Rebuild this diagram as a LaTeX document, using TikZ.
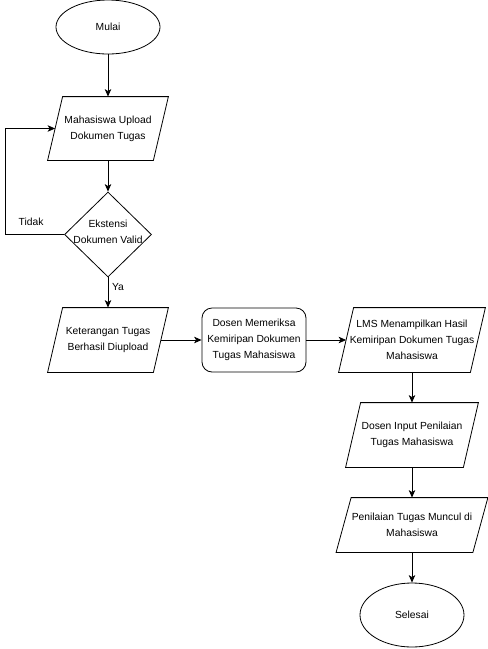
\documentclass[tikz,border=0pt]{standalone}
\usepackage{fontspec}
\setmainfont{Liberation Sans}
\usetikzlibrary{shapes.geometric,arrows.meta}
\begin{document}
\begin{tikzpicture}[x=1pt,y=-1pt,
  base/.style={draw=black, line width=0.8pt, font=\fontsize{10.3}{16}\selectfont, align=center, inner sep=0pt},
  term/.style={base, ellipse, minimum width=104pt},
  io/.style={base, draw=none, rectangle,
    append after command={\pgfextra{\let\ionode\tikzlastnode
      \draw[line width=0.8pt, line join=miter]
        ([xshift=-7.5pt]\ionode.south west) -- ([xshift=7.5pt]\ionode.north west)
        -- ([xshift=7.5pt]\ionode.north east) -- ([xshift=-7.5pt]\ionode.south east) -- cycle;}}},
  proc/.style={base, rectangle, rounded corners=10pt, minimum width=104pt, minimum height=64pt},
  dec/.style={base, diamond, minimum width=87pt, minimum height=85pt},
  arr/.style={draw=black, line width=0.8pt, -{Stealth[length=7.5pt,width=6.5pt,inset=2pt]}},
  lbl/.style={font=\fontsize{10.3}{16}\selectfont, inner sep=0pt, align=center}]
\fill[white] (0,0) rectangle (488,649);
\useasboundingbox (0,0) rectangle (488,649);

\node[term, minimum height=54pt] (start) at (108,27) {Mulai};
\node[io, minimum width=105pt, minimum height=63pt] (p1) at (108,128.5) {Mahasiswa Upload\\Dokumen Tugas};
\node[dec] (dec) at (108,234.5) {};
\node[lbl] (dectext) at (108,231.5) {Ekstensi\\Dokumen Valid};
\node[io, minimum width=105pt, minimum height=64pt] (p2) at (108,340) {Keterangan Tugas\\Berhasil Diupload};
\node[proc] (proc) at (254,340) {Dosen Memeriksa\\Kemiripan Dokumen\\Tugas Mahasiswa};
\node[io, minimum width=131pt, minimum height=64pt] (p3) at (412,340) {LMS Menampilkan Hasil\\Kemiripan Dokumen Tugas\\Mahasiswa};
\node[io, minimum width=117pt, minimum height=64pt] (p4) at (412,435) {Dosen Input Penilaian\\Tugas Mahasiswa};
\node[io, minimum width=136pt, minimum height=54pt] (p5) at (412,525) {Penilaian Tugas Muncul di\\Mahasiswa};
\node[term, minimum height=64pt] (end) at (412,615) {Selesai};

\node[lbl] (tidak) at (31,222) {Tidak};
\node[lbl] (ya) at (118,287) {Ya};

\draw[arr] (start) -- (p1);
\draw[arr] (p1) -- (dec);
\draw[arr] (dec.west) -- ++(-58.5,0) |- (p1.west);
\draw[arr] (dec) -- (p2);
\draw[arr] (p2) -- (proc);
\draw[arr] (proc) -- (p3);
\draw[arr] (p3) -- (p4);
\draw[arr] (p4) -- (p5);
\draw[arr] (p5) -- (end);
\end{tikzpicture}
\end{document}
